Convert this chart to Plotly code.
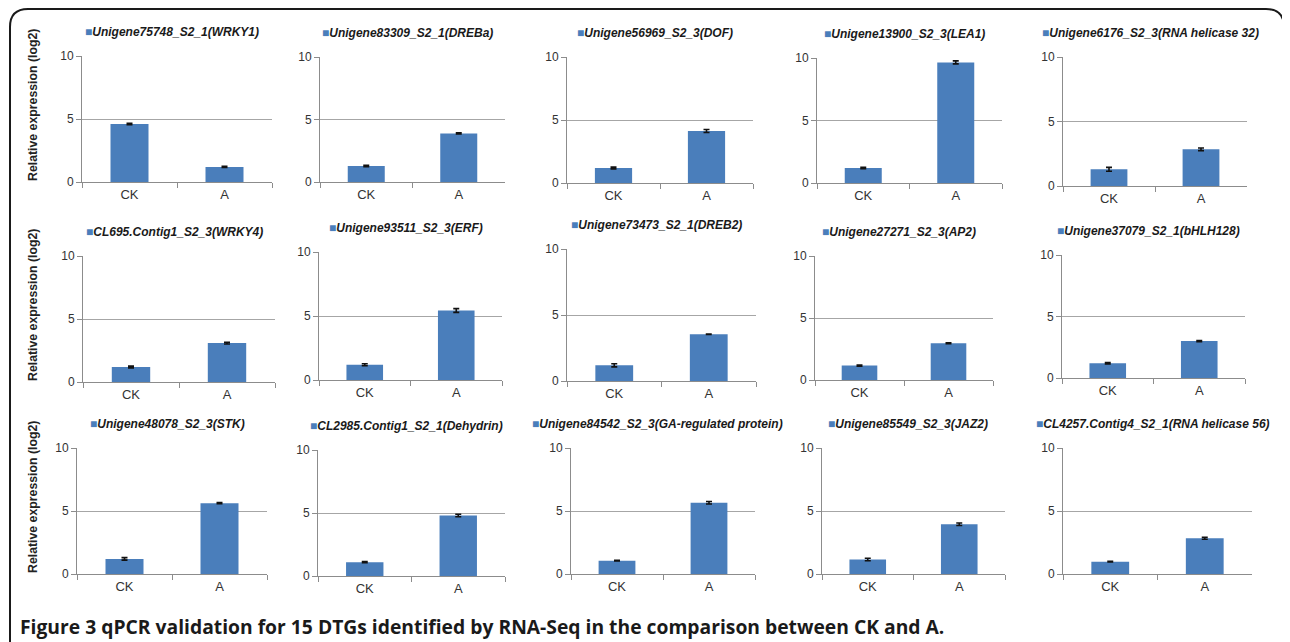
import plotly.graph_objects as go

# ---------------- data ----------------
genes = [
    "Unigene75748_S2_1(WRKY1)", "Unigene83309_S2_1(DREBa)", "Unigene56969_S2_3(DOF)",
    "Unigene13900_S2_3(LEA1)", "Unigene6176_S2_3(RNA helicase 32)",
    "CL695.Contig1_S2_3(WRKY4)", "Unigene93511_S2_3(ERF)", "Unigene73473_S2_1(DREB2)",
    "Unigene27271_S2_3(AP2)", "Unigene37079_S2_1(bHLH128)",
    "Unigene48078_S2_3(STK)", "CL2985.Contig1_S2_1(Dehydrin)", "Unigene84542_S2_3(GA-regulated protein)",
    "Unigene85549_S2_3(JAZ2)", "CL4257.Contig4_S2_1(RNA helicase 56)",
]
categories = ["CK", "A"]
ck_values = [4.60, 1.28, 1.19, 1.20, 1.29,
             1.19, 1.19, 1.19, 1.16, 1.20,
             1.20, 1.10, 1.06, 1.15, 0.98]
a_values = [1.20, 3.89, 4.13, 9.65, 2.84,
            3.09, 5.43, 3.54, 2.96, 3.00,
            5.62, 4.80, 5.65, 3.95, 2.84]
ck_err = [0.05, 0.05, 0.07, 0.05, 0.15,
          0.07, 0.08, 0.12, 0.05, 0.05,
          0.10, 0.05, 0.02, 0.10, 0.03]
a_err = [0.05, 0.05, 0.12, 0.12, 0.10,
         0.07, 0.15, 0.02, 0.03, 0.05,
         0.05, 0.10, 0.10, 0.10, 0.08]
y_ticks = [0, 5, 10]
y_title = "Relative expression (log2)"
caption = "Figure 3 qPCR validation for 15 DTGs identified by RNA-Seq in the comparison between CK and A."

# ---------------- layout geometry (pixels in the 1290x642 window) ----------------
OFF = 8                      # default page body margin
W, H = 1290 - OFF, 642 - OFF
# (left, right, y_top(=10), y_bottom(=0)) for each panel
panels_px = [
    (82, 272, 56, 182), (320, 505, 57, 182), (567, 753, 57, 183), (817, 1002, 58, 183), (1063, 1247, 57, 186),
    (83, 275, 256, 382), (319, 502, 252, 380), (567, 756, 249, 381), (815, 993, 256, 380), (1062, 1245, 255, 378),
    (77, 267, 448, 574), (318, 505, 450, 576), (571, 755, 448, 574), (822, 1005, 448, 574), (1063, 1252, 448, 574),
]

def px(x):
    return (x - OFF) / W

def py(y):
    return 1 - (y - OFF) / H

BAR = "#4A7EBB"
AXIS = "#8c8c8c"
FONT = "Liberation Sans, Arial, sans-serif"

fig = go.Figure()
layout = {}
annotations = []

for i, g in enumerate(genes):
    n = i + 1
    xa = "x" if n == 1 else f"x{n}"
    ya = "y" if n == 1 else f"y{n}"
    fig.add_trace(go.Bar(
        x=categories, y=[ck_values[i], a_values[i]],
        marker=dict(color=BAR, line=dict(width=0)),
        width=0.4,
        error_y=dict(type="data", array=[ck_err[i], a_err[i]], color="#111111", thickness=1.6, width=3),
        xaxis=xa, yaxis=ya, showlegend=False, hoverinfo="x+y",
    ))
    l, r, t, b = panels_px[i]
    layout[f"xaxis{n if n > 1 else ''}"] = dict(
        domain=[px(l), px(r)], anchor=ya, type="category", automargin=False,
        showline=True, linecolor=AXIS, linewidth=1,
        ticks="outside", tickson="boundaries", ticklen=5, tickcolor=AXIS,
        showgrid=False, zeroline=False, fixedrange=True,
        tickfont=dict(family=FONT, size=13, color="#333333"),
    )
    layout[f"yaxis{n if n > 1 else ''}"] = dict(
        domain=[py(b), py(t)], anchor=xa, range=[0, 10], automargin=False,
        tickvals=y_ticks, showline=True, linecolor=AXIS, linewidth=1,
        ticks="outside", ticklen=5, tickcolor=AXIS,
        showgrid=True, gridcolor="#a6a6a6", gridwidth=1, zeroline=False,
        fixedrange=True, tickfont=dict(family=FONT, size=12, color="#333333"),
    )
    # legend-like panel title
    annotations.append(dict(
        x=px((l + r) / 2 - 5), y=py(t - 24), xref="paper", yref="paper",
        xanchor="center", yanchor="middle", showarrow=False,
        text=f"<span style='color:{BAR}'>■</span><b><i>{g}</i></b>",
        font=dict(family=FONT, size=12, color="#1a1a1a"),
    ))

# y-axis titles per row
for yc in [105, 305, 497]:
    annotations.append(dict(
        x=px(33), y=py(yc), xref="paper", yref="paper", textangle=-90,
        xanchor="center", yanchor="middle", showarrow=False,
        text=f"<b>{y_title}</b>", font=dict(family=FONT, size=12.3, color="#222222"),
    ))

# caption
annotations.append(dict(
    x=px(18), y=py(626), xref="paper", yref="paper", xanchor="left", yanchor="middle",
    showarrow=False, text=f"<b>{caption}</b>",
    font=dict(family="Open Sans, sans-serif", size=19.3, color="#1a1a1a"),
))

# rounded border (open at bottom)
Lx, Rx, Ty, By, rad = 10, 1284, 9, 660, 18
path = (
    f"M {px(Lx)},{py(By)} L {px(Lx)},{py(Ty + rad)} "
    f"Q {px(Lx)},{py(Ty)} {px(Lx + rad)},{py(Ty)} "
    f"L {px(Rx - rad)},{py(Ty)} "
    f"Q {px(Rx)},{py(Ty)} {px(Rx)},{py(Ty + rad)} "
    f"L {px(Rx)},{py(By)}"
)
shapes = [dict(type="path", path=path, xref="paper", yref="paper",
               line=dict(color="#1a1a1a", width=2))]

fig.update_layout(
    width=W, height=H, margin=dict(l=0, r=0, t=0, b=0, autoexpand=False),
    paper_bgcolor="white", plot_bgcolor="white",
    annotations=annotations, shapes=shapes, bargap=0.6,
    **layout,
)

fig.write_html("out.html")
